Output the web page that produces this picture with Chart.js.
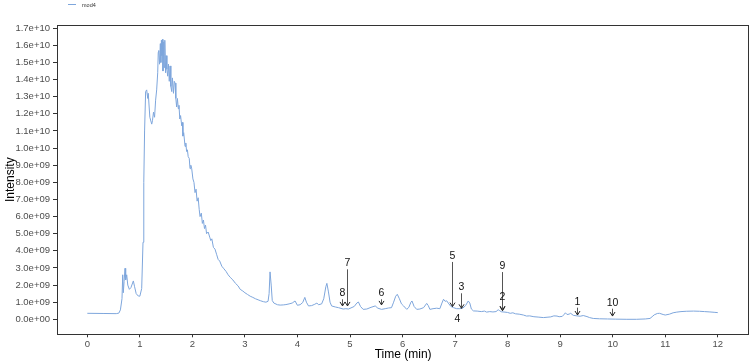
<!DOCTYPE html>
<html>
<head>
<meta charset="utf-8">
<script src="https://cdn.jsdelivr.net/npm/chart.js@4"></script>
<style>
  html, body { margin: 0; padding: 0; background: #ffffff; }
  #wrap { width: 752px; height: 364px; }
</style>
</head>
<body>
<div id="wrap"><canvas id="c" width="752" height="364"></canvas></div>
<script>
// ---------- DATA ----------
const seriesName = 'mod4';
const UNIT = 1e9; // intensity values below are in units of 1e9

const times = [
  0.00, 0.30, 0.55, 0.60, 0.63, 0.66, 0.674, 0.685, 0.70, 0.718, 0.73, 0.75, 0.77, 0.80, 0.83, 0.876, 0.90, 0.93, 0.97, 1.00,
  1.035, 1.06, 1.075, 1.09, 1.11, 1.13, 1.15, 1.16, 1.19, 1.226, 1.24, 1.26, 1.28, 1.30, 1.32, 1.34, 1.35, 1.36, 1.375, 1.39,
  1.40, 1.41, 1.42, 1.43, 1.44, 1.455, 1.465, 1.475, 1.49, 1.50, 1.515, 1.53, 1.545, 1.56, 1.575, 1.59, 1.607, 1.62, 1.64, 1.655,
  1.67, 1.685, 1.70, 1.715, 1.732, 1.745, 1.76, 1.775, 1.797, 1.81, 1.82, 1.835, 1.86, 1.875, 1.89, 1.905, 1.92, 1.94, 1.955, 1.97,
  1.987, 2.01, 2.03, 2.05, 2.07, 2.09, 2.11, 2.13, 2.146, 2.17, 2.19, 2.21, 2.23, 2.25, 2.27, 2.30, 2.33, 2.35, 2.37, 2.40,
  2.43, 2.46, 2.49, 2.52, 2.56, 2.60, 2.64, 2.68, 2.72, 2.77, 2.82, 2.87, 2.91, 2.96, 3.00, 3.05, 3.10, 3.15, 3.20, 3.25,
  3.30, 3.35, 3.40, 3.44, 3.46, 3.478, 3.50, 3.52, 3.55, 3.62, 3.67, 3.73, 3.78, 3.84, 3.90, 3.954, 3.998, 4.05, 4.10, 4.14,
  4.17, 4.21, 4.27, 4.33, 4.37, 4.40, 4.46, 4.50, 4.54, 4.56, 4.59, 4.62, 4.65, 4.72, 4.78, 4.87, 4.92, 4.97, 5.00, 5.08,
  5.13, 5.16, 5.20, 5.25, 5.32, 5.40, 5.48, 5.53, 5.60, 5.67, 5.73, 5.79, 5.83, 5.87, 5.90, 5.94, 5.98, 6.02, 6.08, 6.12,
  6.16, 6.18, 6.22, 6.27, 6.33, 6.40, 6.46, 6.49, 6.52, 6.58, 6.65, 6.71, 6.75, 6.78, 6.81, 6.84, 6.87, 6.92, 6.97, 7.03,
  7.09, 7.15, 7.20, 7.25, 7.28, 7.31, 7.35, 7.42, 7.50, 7.56, 7.60, 7.66, 7.72, 7.78, 7.82, 7.85, 7.88, 7.95, 8.00, 8.05,
  8.10, 8.15, 8.22, 8.30, 8.36, 8.42, 8.50, 8.58, 8.68, 8.75, 8.82, 8.88, 8.94, 8.98, 9.04, 9.08, 9.10, 9.13, 9.17, 9.20,
  9.25, 9.32, 9.38, 9.44, 9.51, 9.56, 9.63, 9.75, 9.90, 10.05, 10.27, 10.45, 10.62, 10.71, 10.75, 10.79, 10.85, 10.89, 10.96, 11.00,
  11.08, 11.15, 11.22, 11.30, 11.40, 11.54, 11.65, 11.75, 11.85, 11.93, 12.00
];

const intensity = [
  0.35, 0.34, 0.33, 0.36, 0.55, 1.20, 2.60, 1.55, 2.20, 2.98, 2.30, 2.60, 2.00, 1.75, 1.85, 2.24, 1.90, 1.50, 1.36, 1.35,
  1.80, 4.50, 8.00, 11.0, 13.3, 13.4, 12.9, 13.2, 11.8, 11.4, 11.6, 12.1, 11.8, 12.8, 13.4, 14.4, 15.6, 15.7, 14.9, 16.1,
  15.0, 16.3, 15.4, 16.35, 14.5, 16.2, 14.7, 16.3, 14.4, 15.4, 14.6, 14.2, 14.9, 13.9, 14.8, 13.6, 13.3, 14.1, 13.2, 13.9,
  13.8, 12.9, 12.4, 12.9, 12.3, 12.5, 11.7, 11.9, 11.3, 11.5, 10.7, 10.9, 10.1, 10.3, 9.8, 9.9, 9.5, 9.4, 8.8, 9.0,
  8.8, 8.2, 8.0, 7.4, 7.6, 6.9, 7.1, 6.4, 6.0, 6.2, 5.6, 5.8, 5.3, 5.5, 5.0, 5.1, 4.8, 4.6, 4.7, 4.2,
  4.1, 3.8, 3.5, 3.4, 3.1, 2.95, 2.8, 2.6, 2.45, 2.3, 2.1, 1.95, 1.75, 1.65, 1.55, 1.45, 1.35, 1.28, 1.20, 1.14,
  1.08, 1.03, 1.00, 1.05, 1.50, 2.77, 2.00, 1.10, 0.95, 0.85, 0.83, 0.84, 0.86, 0.90, 0.95, 1.07, 0.82, 0.85, 0.98, 1.28,
  1.00, 0.78, 0.80, 0.88, 0.95, 0.85, 0.90, 1.20, 1.90, 2.10, 1.60, 1.00, 0.78, 0.72, 0.68, 0.60, 0.62, 0.60, 0.64, 0.75,
  0.95, 1.01, 0.75, 0.58, 0.60, 0.70, 0.78, 0.65, 0.58, 0.62, 0.66, 0.68, 1.00, 1.35, 1.46, 1.20, 0.90, 0.78, 0.58, 0.70,
  1.00, 1.07, 0.75, 0.58, 0.60, 0.68, 0.93, 0.80, 0.58, 0.62, 0.65, 0.62, 0.95, 1.17, 1.05, 1.08, 0.95, 0.75, 0.68, 0.62,
  0.62, 0.66, 0.80, 1.07, 0.95, 0.60, 0.49, 0.48, 0.45, 0.48, 0.42, 0.45, 0.43, 0.45, 0.56, 0.50, 0.44, 0.42, 0.40, 0.35,
  0.38, 0.32, 0.30, 0.25, 0.19, 0.20, 0.15, 0.13, 0.10, 0.12, 0.14, 0.20, 0.19, 0.15, 0.17, 0.30, 0.38, 0.28, 0.30, 0.35,
  0.23, 0.20, 0.18, 0.22, 0.16, 0.10, 0.05, 0.03, 0.02, 0.01, 0.00, 0.00, 0.02, 0.05, 0.15, 0.26, 0.34, 0.35, 0.28, 0.25,
  0.30, 0.38, 0.42, 0.45, 0.47, 0.48, 0.47, 0.45, 0.43, 0.41, 0.39
];

const xTickValues = [0, 1, 2, 3, 4, 5, 6, 7, 8, 9, 10, 11, 12];
const yTickValues = [0, 1, 2, 3, 4, 5, 6, 7, 8, 9, 10, 11, 12, 13, 14, 15, 16, 17]; // x 1e9

// peak annotations: label, time, label height, arrow tip height (x 1e9)
const annLabels = ['7', '8', '6', '5', '3', '4', '9', '2', '1', '10'];
const annTimes  = [4.95, 4.854, 5.597, 6.949, 7.114, 7.032, 7.889, 7.90, 9.328, 9.994];
const annLabelY = [3.27, 1.52, 1.52, 3.70, 1.87, 0.00, 3.11, 1.29, 1.03, 0.97];
const annTipY   = [0.78, 0.78, 0.84, 0.74, 0.64, null, 0.54, 0.50, 0.25, 0.19];

// ---------- CHART ----------
const LINE_COLOR = '#7ea6dc';
const FONT = "'Liberation Sans', Arial, sans-serif";
Chart.defaults.font.family = FONT;

function fmtExp(v) {
  if (v === 0) return '0.0e+00';
  let e = Math.floor(Math.log10(Math.abs(v)) + 1e-9);
  let m = v / Math.pow(10, e);
  return m.toFixed(1) + 'e+' + String(e).padStart(2, '0');
}

const points = times.map((t, i) => ({ x: t, y: intensity[i] * UNIT }));

const framePlugin = {
  id: 'frame',
  afterDraw(chart) {
    const { ctx, chartArea: a, scales } = chart;
    ctx.save();
    // panel border
    ctx.strokeStyle = '#333333';
    ctx.lineWidth = 1;
    ctx.strokeRect(Math.round(a.left) + 0.5, Math.round(a.top) + 0.5,
                   Math.round(a.right) - Math.round(a.left) - 1, Math.round(a.bottom) - Math.round(a.top));
    // annotations
    const xs = scales.x, ys = scales.y;
    ctx.font = "10.5px " + FONT;
    ctx.textAlign = 'center';
    ctx.textBaseline = 'middle';
    for (let i = 0; i < annLabels.length; i++) {
      const px = Math.round(xs.getPixelForValue(annTimes[i])) + 0.5;
      const py = ys.getPixelForValue(annLabelY[i] * UNIT);
      ctx.fillStyle = '#111111';
      ctx.fillText(annLabels[i], px, py);
      if (annTipY[i] !== null) {
        const tip = ys.getPixelForValue(annTipY[i] * UNIT);
        const start = py + 6;
        ctx.strokeStyle = '#555555';
        ctx.lineWidth = 1;
        ctx.beginPath();
        ctx.moveTo(px, start);
        ctx.lineTo(px, tip);
        ctx.stroke();
        ctx.strokeStyle = '#222222';
        ctx.beginPath();
        ctx.moveTo(px - 2.5, tip - 4);
        ctx.lineTo(px, tip);
        ctx.lineTo(px + 2.5, tip - 4);
        ctx.stroke();
      }
    }
    // legend
    ctx.strokeStyle = LINE_COLOR;
    ctx.lineWidth = 1;
    ctx.beginPath();
    ctx.moveTo(68, 4.5);
    ctx.lineTo(76, 4.5);
    ctx.stroke();
    ctx.fillStyle = '#333333';
    ctx.font = "5.5px " + FONT;
    ctx.textAlign = 'left';
    ctx.textBaseline = 'middle';
    ctx.fillText(seriesName, 82, 5);
    ctx.restore();
  }
};

new Chart(document.getElementById('c'), {
  type: 'line',
  data: {
    datasets: [{
      label: seriesName,
      data: points,
      borderColor: LINE_COLOR,
      borderWidth: 1,
      pointRadius: 0,
      tension: 0,
      fill: false
    }]
  },
  options: {
    responsive: false,
    animation: false,
    layout: { padding: { top: 25, right: 2.7, bottom: 0, left: 0 } },
    plugins: { legend: { display: false }, tooltip: { enabled: false } },
    scales: {
      x: {
        type: 'linear',
        min: -0.577,
        max: 12.60,
        afterBuildTicks(scale) { scale.ticks = xTickValues.map(v => ({ value: v })); },
        afterFit(scale) { scale.height = 29.7; },
        grid: { display: true, drawOnChartArea: false, drawTicks: true, tickLength: 3, color: '#333333' },
        border: { display: false },
        ticks: { color: '#4d4d4d', font: { size: 9.5 }, padding: 1, maxRotation: 0, autoSkip: false,
                  callback: v => String(v) },
        title: { display: true, text: 'Time (min)', color: '#000000', font: { size: 12 }, padding: { top: 0, bottom: 2 } }
      },
      y: {
        type: 'linear',
        min: -0.876 * UNIT,
        max: 17.19 * UNIT,
        afterBuildTicks(scale) { scale.ticks = yTickValues.map(v => ({ value: v * UNIT })); },
        afterFit(scale) { scale.width = 57; },
        grid: { display: true, drawOnChartArea: false, drawTicks: true, tickLength: 4, color: '#333333' },
        border: { display: false },
        ticks: { color: '#4d4d4d', font: { size: 9.5 }, padding: 3, autoSkip: false,
                  callback: v => fmtExp(v) },
        title: { display: true, text: 'Intensity', color: '#000000', font: { size: 12 }, padding: { top: 3, bottom: 0 } }
      }
    }
  },
  plugins: [framePlugin]
});
</script>
</body>
</html>
